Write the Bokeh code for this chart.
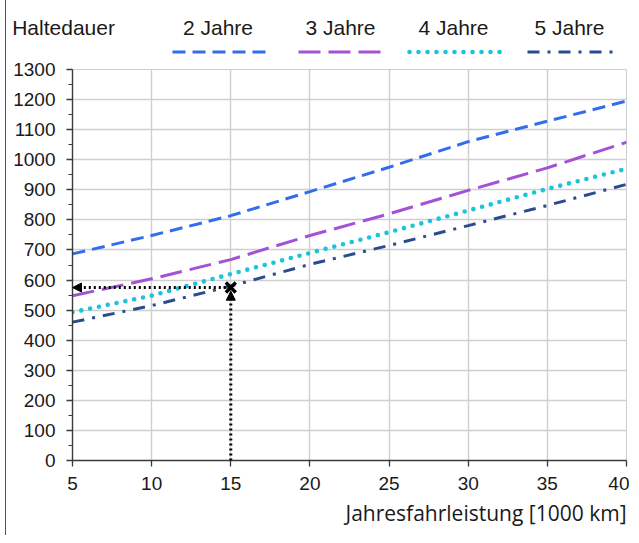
from bokeh.plotting import figure
from bokeh.layouts import column
from bokeh.models import Range1d, FixedTicker, Arrow, NormalHead, Title, Div
from bokeh.embed import file_html
from bokeh.resources import INLINE

# data
km = [5, 10, 15, 20, 25, 30, 35, 40]
jahre2 = [687, 748, 814, 894, 975, 1060, 1128, 1195]
jahre3 = [548, 604, 668, 748, 820, 898, 973, 1058]
jahre4 = [493, 548, 620, 690, 759, 831, 903, 970]
jahre5 = [460, 515, 580, 652, 715, 781, 848, 918]
series_names = ["2 Jahre", "3 Jahre", "4 Jahre", "5 Jahre"]
legend_title = "Haltedauer"
x_label = "Jahresfahrleistung [1000 km]"
example_km = 15
example_value = 575
x_ticks = [5, 10, 15, 20, 25, 30, 35, 40]
y_ticks = list(range(0, 1301, 100))

colors = ["#336DEE", "#A352D6", "#19C4DC", "#2A4B8E"]
dashes = ["13 7", "22 8", "0 9", "12 8 3 8"]
widths = [3, 3, 4.6, 3]
caps = ["butt", "butt", "round", "butt"]

TEXT_FONT = "Open Sans"
TICK_FONT = "Liberation Sans"

# layout
LEFT_OFF = 6.5          # column margin + border
W = 623
HEAD_H = 55
P_H = 480
ML, MR, MT, MB = 66, 3, 14, 75

# ---------- header legend (labels above line samples) ----------
leg_x0 = [173, 299, 410, 528]
leg_x1 = [268, 387, 502, 616]
parts = ['<svg xmlns="http://www.w3.org/2000/svg" width="%d" height="%d" style="display:block">' % (W, HEAD_H)]
parts.append('<text x="%.1f" y="35" font-family="%s" font-size="21" fill="#1a1a1a">%s</text>'
             % (12.7 - LEFT_OFF, TEXT_FONT, legend_title))
for i, name in enumerate(series_names):
    a, b = leg_x0[i] - LEFT_OFF, leg_x1[i] - LEFT_OFF
    parts.append('<text x="%.1f" y="35" text-anchor="middle" font-family="%s" font-size="21" fill="#1a1a1a">%s</text>'
                 % ((a + b) / 2 - 2, TEXT_FONT, name))
    parts.append('<line x1="%.1f" y1="52" x2="%.1f" y2="52" stroke="%s" stroke-width="%s" '
                 'stroke-dasharray="%s" stroke-linecap="%s"/>'
                 % (a, b, colors[i], widths[i], dashes[i].replace(" ", ","), caps[i]))
parts.append('</svg>')
header = Div(text="".join(parts), width=W, height=HEAD_H, margin=0)

# ---------- main chart ----------
p = figure(width=W, height=P_H, x_range=Range1d(5, 40), y_range=Range1d(0, 1300),
           output_backend="svg", toolbar_location=None, margin=0,
           min_border_left=ML, min_border_right=MR, min_border_top=MT, min_border_bottom=MB)
p.outline_line_color = "#CFCFCF"
p.xaxis.ticker = FixedTicker(ticks=x_ticks)
p.yaxis.ticker = FixedTicker(ticks=y_ticks, minor_ticks=[v + 50 for v in y_ticks[:-1]])
for ax in (p.xaxis[0], p.yaxis[0]):
    ax.axis_line_color = "#3a3a3a"
    ax.axis_line_width = 1.4
    ax.major_tick_line_color = "#3a3a3a"
    ax.minor_tick_line_color = "#3a3a3a"
    ax.major_tick_line_width = 1.3
    ax.major_tick_out = 6
    ax.major_tick_in = 0
    ax.major_label_text_font = TICK_FONT
    ax.major_label_text_font_size = "19px"
    ax.major_label_text_color = "#1a1a1a"
p.yaxis.minor_tick_out = 4
p.yaxis.minor_tick_in = 0
p.xaxis.minor_tick_out = 0
p.xaxis.minor_tick_in = 0
p.xaxis.major_label_standoff = 10
p.yaxis.major_label_standoff = 11
p.grid.grid_line_color = "#CFCFCF"
p.grid.grid_line_width = 1.4

for ys, c, d, w, cap in zip([jahre2, jahre3, jahre4, jahre5], colors, dashes, widths, caps):
    p.line(km, ys, line_color=c, line_dash=d, line_width=w, line_cap=cap)

# reading example
p.add_layout(Arrow(end=NormalHead(size=9, fill_color="black", line_color="black", line_width=1),
                   x_start=example_km, y_start=example_value, x_end=km[0], y_end=example_value,
                   line_color="black", line_width=3, line_dash="2 3"))
p.add_layout(Arrow(end=NormalHead(size=9, fill_color="black", line_color="black", line_width=1),
                   x_start=example_km, y_start=0, x_end=example_km, y_end=example_value - 12,
                   line_color="black", line_width=3, line_dash="2 3"))
p.scatter([example_km], [example_value], marker="x", size=14, line_color="black", line_width=3.5)

p.add_layout(Title(text=x_label, align="right", text_font=TEXT_FONT, text_font_size="21px",
                   text_font_style="normal", text_color="#1a1a1a", standoff=9, offset=0), "below")

layout = column(header, p, spacing=0,
                styles={"border-left": "1.5px solid #555", "margin-left": "5px"})

open("out.html", "w").write(file_html(layout, INLINE))
